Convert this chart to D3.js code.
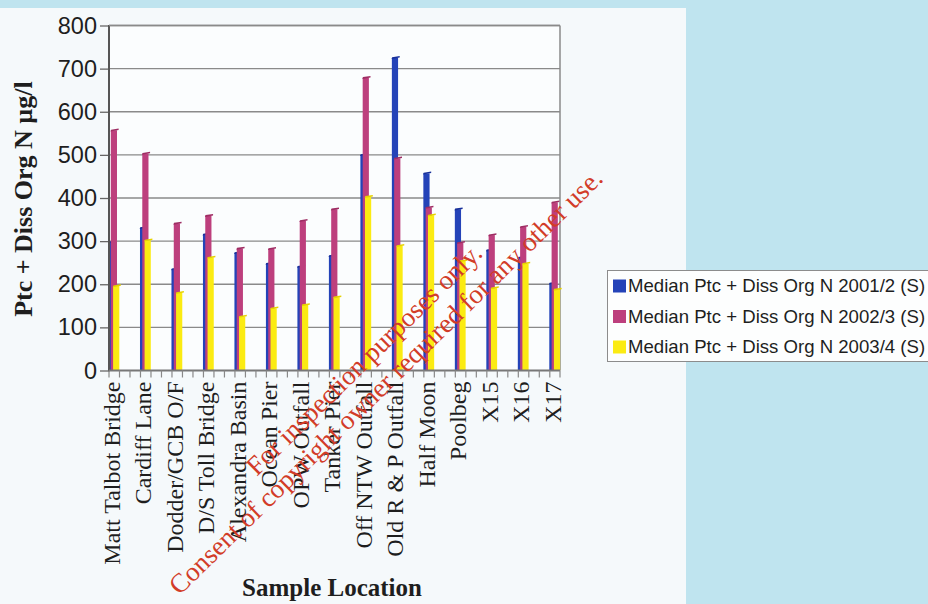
<!DOCTYPE html>
<html>
<head>
<meta charset="utf-8">
<script src="https://cdn.jsdelivr.net/npm/d3@7/dist/d3.min.js"></script>
<style>
  html, body { margin: 0; padding: 0; background: #bfe4ef; }
  svg { display: block; }
</style>
</head>
<body>
<svg id="chart" width="928" height="604"></svg>
<script>
// Sample locations along the x axis
const categories = [
  "Matt Talbot Bridge", "Cardiff Lane", "Dodder/GCB O/F", "D/S Toll Bridge",
  "Alexandra Basin", "Ocean Pier", "OPW Outfall", "Tanker Pier",
  "Off NTW Outfall", "Old R & P Outfall", "Half Moon", "Poolbeg",
  "X15", "X16", "X17"
];

// Median particulate + dissolved organic N (µg/l) per survey year
const series2001 = [298, 331, 235, 316, 273, 248, 241, 266, 500, 725, 457, 374, 279, 262, 202];
const series2002 = [557, 503, 341, 359, 283, 282, 347, 374, 679, 492, 378, 296, 314, 333, 390];
const series2003 = [196, 302, 180, 262, 125, 144, 152, 170, 403, 289, 360, 254, 191, 248, 188];

const seriesNames = [
  "Median Ptc + Diss Org N 2001/2 (S)",
  "Median Ptc + Diss Org N 2002/3 (S)",
  "Median Ptc + Diss Org N 2003/4 (S)"
];
const yTicks = [0, 100, 200, 300, 400, 500, 600, 700, 800];

const colors = ["#2443b8", "#bd3f7d", "#fbeb12"];
const capColors = ["#18309a", "#9e2d63", "#e6d200"];

const svg = d3.select("#chart");

// page backgrounds
svg.append("rect").attr("x", 0).attr("y", 0).attr("width", 928).attr("height", 604).attr("fill", "#bfe4ef");
svg.append("rect").attr("x", 0).attr("y", 8).attr("width", 686).attr("height", 596).attr("fill", "#f5f9fb");

const plot = { left: 109, right: 560, top: 25.5, bottom: 370.5 };

const y = d3.scaleLinear().domain([0, 800]).range([plot.bottom, plot.top]);
const x = d3.scalePoint().domain(categories).range([108.5, 549.3]);
const step = x.step();

// plot background
svg.append("rect")
  .attr("x", plot.left).attr("y", plot.top)
  .attr("width", plot.right - plot.left).attr("height", plot.bottom - plot.top)
  .attr("fill", "#fbfdfe");

// y tick marks + labels
const yAxis = svg.append("g")
  .attr("transform", `translate(${plot.left},0)`)
  .call(d3.axisLeft(y).tickValues(yTicks).tickSize(9).tickPadding(3).tickFormat(d3.format("d")));
yAxis.select(".domain").remove();
yAxis.selectAll(".tick line").attr("stroke", "#666").attr("stroke-width", 1.3);
yAxis.selectAll(".tick text")
  .attr("font-family", "'Liberation Sans', Arial, sans-serif")
  .attr("font-size", 23.5)
  .attr("fill", "#1e1e1e");

// horizontal gridlines
svg.append("g").selectAll("line").data(yTicks.filter(d => d > 0))
  .join("line")
  .attr("x1", plot.left).attr("x2", plot.right)
  .attr("y1", d => y(d)).attr("y2", d => y(d))
  .attr("stroke", "#8a8a8a").attr("stroke-width", 1.3);

// right frame edge
svg.append("line")
  .attr("x1", plot.right).attr("x2", plot.right)
  .attr("y1", plot.top).attr("y2", plot.bottom)
  .attr("stroke", "#8a8a8a").attr("stroke-width", 1.5);

// bars: back row (2001/2) to front row (2003/4), each offset slightly right
const allSeries = [series2001, series2002, series2003];
const barW = 6.2;
const offsets = [0, 2.3, 4.6];

allSeries.forEach((vals, s) => {
  const g = svg.append("g");
  g.selectAll("rect").data(vals).join("rect")
    .attr("x", (d, i) => x(categories[i]) + offsets[s])
    .attr("y", d => y(d))
    .attr("width", barW)
    .attr("height", d => y(0) - y(d))
    .attr("fill", colors[s]);
  // slanted top cap
  g.selectAll("polygon").data(vals).join("polygon")
    .attr("points", (d, i) => {
      const x0 = x(categories[i]) + offsets[s];
      const t = y(d);
      return [
        [x0 - 0.3, t + 1.2],
        [x0 + barW + 1.6, t - 0.3],
        [x0 + barW + 1.6, t - 1.8],
        [x0 + 0.3, t - 0.6]
      ].map(p => p.join(",")).join(" ");
    })
    .attr("fill", capColors[s]);
});

// left axis line
svg.append("line")
  .attr("x1", plot.left).attr("x2", plot.left)
  .attr("y1", plot.top - 0.5).attr("y2", plot.bottom + 1)
  .attr("stroke", "#555").attr("stroke-width", 2);

// top frame
svg.append("line")
  .attr("x1", plot.left).attr("x2", plot.right)
  .attr("y1", plot.top).attr("y2", plot.top)
  .attr("stroke", "#8a8a8a").attr("stroke-width", 1.5);

// x axis line and minor ticks
svg.append("line")
  .attr("x1", plot.left).attr("x2", plot.right)
  .attr("y1", plot.bottom).attr("y2", plot.bottom)
  .attr("stroke", "#777").attr("stroke-width", 2.2);

const tickXs = [];
categories.forEach(c => {
  for (let k = 0; k < 3; k++) {
    const tx = x(c) + 0.5 + k * step / 3;
    if (tx <= plot.right) tickXs.push(tx);
  }
});
tickXs.push(plot.right);
svg.append("g").selectAll("line").data(tickXs).join("line")
  .attr("x1", d => d).attr("x2", d => d)
  .attr("y1", plot.bottom).attr("y2", plot.bottom + 7)
  .attr("stroke", "#888").attr("stroke-width", 1.2);

// category labels (vertical)
const xAxis = svg.append("g")
  .attr("transform", `translate(0,${plot.bottom})`)
  .call(d3.axisBottom(x).tickSize(0).tickPadding(0));
xAxis.select(".domain").remove();
xAxis.selectAll(".tick")
  .attr("transform", d => `translate(${x(d) + 11.5},0)`);
xAxis.selectAll(".tick text")
  .attr("transform", "rotate(-90)")
  .attr("x", -11)
  .attr("y", 0)
  .attr("dy", 0)
  .attr("text-anchor", "end")
  .attr("font-family", "'Liberation Serif', 'Times New Roman', serif")
  .attr("font-size", 24)
  .attr("fill", "#1e1e1e");

// axis titles
svg.append("text")
  .attr("transform", "translate(32,199) rotate(-90)")
  .attr("text-anchor", "middle")
  .attr("font-family", "'Liberation Serif', 'Times New Roman', serif")
  .attr("font-weight", "bold")
  .attr("font-size", 26)
  .attr("fill", "#1e1e1e")
  .text("Ptc + Diss Org N µg/l");

svg.append("text")
  .attr("x", 332).attr("y", 596)
  .attr("text-anchor", "middle")
  .attr("font-family", "'Liberation Serif', 'Times New Roman', serif")
  .attr("font-weight", "bold")
  .attr("font-size", 25)
  .attr("fill", "#1e1e1e")
  .text("Sample Location");

// legend
const legend = svg.append("g");
legend.append("rect")
  .attr("x", 607.5).attr("y", 270.5).attr("width", 330).attr("height", 91)
  .attr("fill", "#fdfefe").attr("stroke", "#8c8c8c").attr("stroke-width", 1);
const rowY = [286, 316.5, 347];
seriesNames.forEach((name, i) => {
  legend.append("rect")
    .attr("x", 613).attr("y", rowY[i] - 6.5).attr("width", 13).attr("height", 13)
    .attr("fill", colors[i]);
  legend.append("text")
    .attr("x", 628).attr("y", rowY[i] + 6)
    .attr("font-family", "'Liberation Sans', Arial, sans-serif")
    .attr("font-size", 18.6)
    .attr("fill", "#1e1e1e")
    .text(name);
});

// watermark stamp across the chart
const stamp = svg.append("g")
  .attr("transform", "translate(392,388) rotate(-44.4)")
  .attr("font-family", "'Liberation Serif', 'Times New Roman', serif")
  .attr("font-size", 27)
  .attr("fill", "#d23c28")
  .attr("text-anchor", "middle");
stamp.append("text").attr("x", 0).attr("y", -31).text("For inspection purposes only.");
stamp.append("text").attr("x", 0).attr("y", 0).text("Consent of copyright owner required for any other use.");
</script>
</body>
</html>
